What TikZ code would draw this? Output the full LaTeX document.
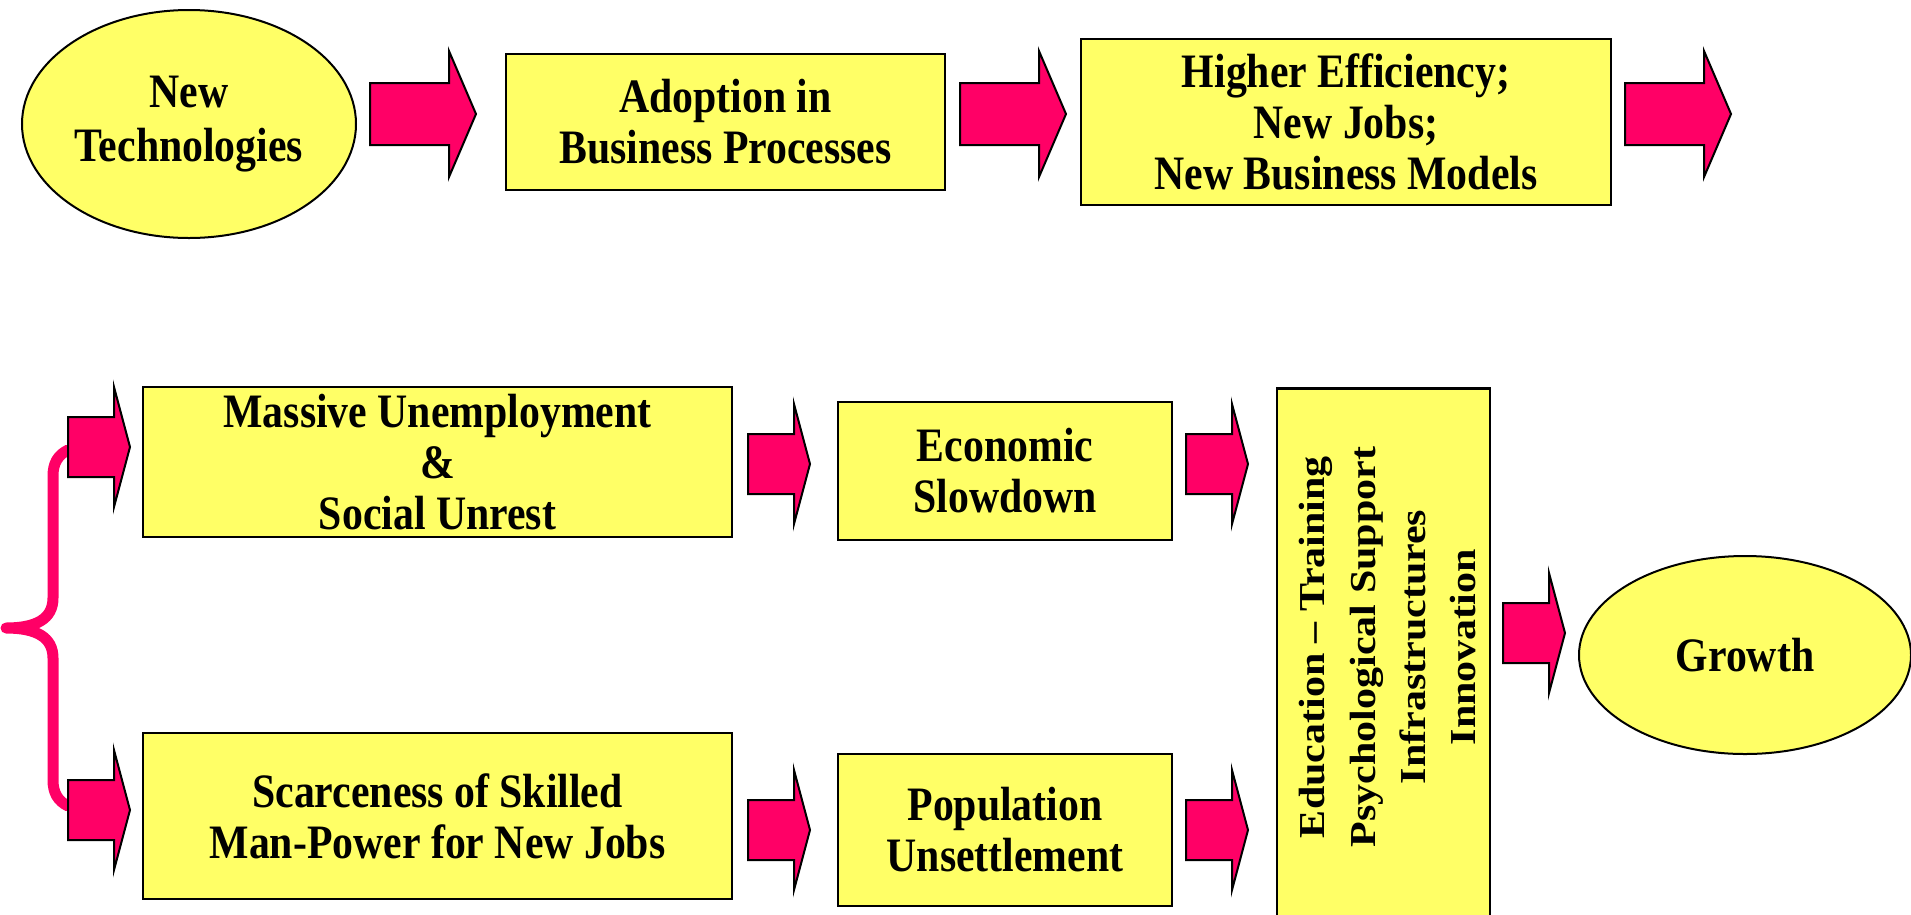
\documentclass[tikz,border=0pt]{standalone}
\usepackage{fontspec}
\setmainfont{Liberation Serif}[FakeStretch=0.87]
\newfontfamily\uprightfont{Liberation Serif}[Ligatures=TeX]
\usetikzlibrary{shapes.geometric}

\definecolor{boxyellow}{HTML}{FFFF66}
\definecolor{arrowpink}{HTML}{FF0066}

\tikzset{every picture/.style={line width=2pt},
  slidebox/.style={draw, line width=2.5pt, fill=boxyellow, inner sep=0pt, align=center,
    font=\fontsize{48}{51}\selectfont\bfseries},
  slideoval/.style={slidebox, ellipse, line width=2pt},
  arrowpaint/.style={draw, line width=2pt, fill=arrowpink},
  bracepaint/.style={draw=arrowpink, line width=11pt, line cap=round, line join=round},
  pics/bigarrow/.style={code={
    \draw [arrowpaint] (0,-31) -- (79,-31) -- (79,-63) -- (106,0) -- (79,63) -- (79,31) -- (0,31) -- cycle ;}},
  pics/smallarrow/.style={code={
    \draw [arrowpaint] (0,-30) -- (46,-30) -- (46,-60) -- (62,0) -- (46,60) -- (46,30) -- (0,30) -- cycle ;}}
}

\begin{document}
\begin{tikzpicture}[x=1pt,y=1pt,yscale=-1]

\useasboundingbox (0,0) rectangle (1911,914);

% upper chain
\node [slideoval, minimum width=334pt, minimum height=228pt, font=\fontsize{48}{54}\selectfont\bfseries] (tech) at (189,124) {New\\Technologies};
\node [slidebox, minimum width=439pt, minimum height=136pt] (adopt) at (725.5,122) {Adoption in\\Business Processes};
\node [slidebox, minimum width=530pt, minimum height=166pt] (gain) at (1346,122) {Higher Efficiency;\\New Jobs;\\New Business Models};

\pic (a1) at (370,114) {bigarrow};
\pic (a2) at (960,114) {bigarrow};
\pic (a3) at (1625,114) {bigarrow};

% brace splitting into the two lower rows
\draw [bracepaint] (68,450) .. controls (58,455) and (53,463) .. (53,476) -- (53,598)
  .. controls (53,619) and (36,628) .. (6,628) .. controls (36,628) and (53,637) .. (53,658)
  -- (53,780) .. controls (53,793) and (58,801) .. (68,806) ;

\pic (b1) at (68,447) {smallarrow};
\pic (b2) at (68,810) {smallarrow};

\node [slidebox, minimum width=589pt, minimum height=150pt] (unemp) at (437.5,462) {Massive Unemployment\\\&\\Social Unrest};
\node [slidebox, minimum width=589pt, minimum height=166pt] (skill) at (437.5,816) {Scarceness of Skilled\\Man-Power for New Jobs};

\pic (c1) at (748,464) {smallarrow};
\pic (c2) at (748,830) {smallarrow};

\node [slidebox, minimum width=334pt, minimum height=138pt] (slow) at (1005,471) {Economic\\Slowdown};
\node [slidebox, minimum width=334pt, minimum height=152pt] (settle) at (1005,830) {Population\\Unsettlement};

\pic (d1) at (1186,464) {smallarrow};
\pic (d2) at (1186,830) {smallarrow};

% remedies
\node [slidebox, anchor=north, minimum width=213pt, minimum height=560pt] (remedy) at (1383.5,387) {};
\node [font=\uprightfont\fontsize{42}{57.5}\selectfont\bfseries, inner sep=0pt] (remedytext) at (1390,647)
  {\rotatebox{90}{\scalebox{1}[0.87]{\begin{tabular}{@{}c@{}}Education -- Training\\Psychological Support\\Infrastructures\\Innovation\end{tabular}}}};

\pic (e1) at (1503,633) {smallarrow};

\node [slideoval, minimum width=332pt, minimum height=198pt] (growth) at (1745,655) {Growth};

\end{tikzpicture}
\end{document}
